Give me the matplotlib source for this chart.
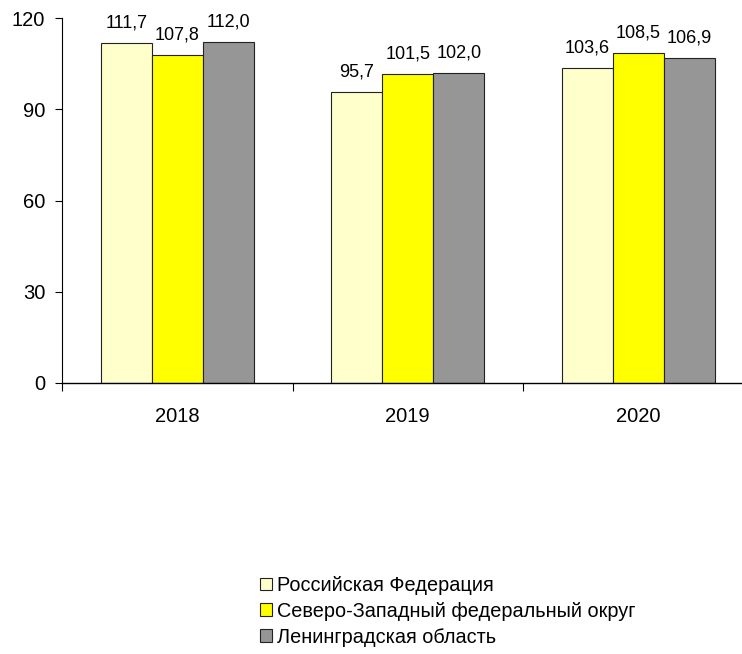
import matplotlib
matplotlib.use("Agg")
import matplotlib.pyplot as plt
import numpy as np

years = ["2018", "2019", "2020"]
series_names = [
    "Российская Федерация",
    "Северо-Западный федеральный округ",
    "Ленинградская область",
]
rf_values = [111.7, 95.7, 103.6]
szfo_values = [107.8, 101.5, 108.5]
lo_values = [112.0, 102.0, 106.9]

colors = ["#FFFFCC", "#FFFF00", "#969696"]

plt.rcParams['font.family'] = ['Liberation Sans', 'DejaVu Sans']

fig = plt.figure(figsize=(7.42, 6.54), dpi=100)
ax = fig.add_axes([62 / 742, 1 - 383 / 654, 1 - 62 / 742, (383 - 18) / 654])

x = np.arange(len(years))
width = 0.221
all_values = [rf_values, szfo_values, lo_values]
for i, (name, vals, col) in enumerate(zip(series_names, all_values, colors)):
    pos = x + (i - 1) * width
    bars = ax.bar(pos, vals, width, color=col, edgecolor="#222222",
                  linewidth=0.8, label=name, zorder=2)
    for b, v in zip(bars, vals):
        ax.annotate(f"{v:.1f}".replace(".", ","),
                    (b.get_x() + b.get_width() / 2, v),
                    xytext=(0, 14.5), textcoords="offset points",
                    ha="center", va="center", fontsize=13)

ax.set_ylim(0, 120)
ax.set_yticks([0, 30, 60, 90, 120])
ax.set_xlim(-0.5, 2.45)
ax.set_xticks([-0.5, 0.5, 1.5])
ax.set_xticklabels([])
ax.set_xticks(x, minor=True)
ax.set_xticklabels(years, minor=True)
ax.tick_params(axis="x", which="major", direction="out", length=6, width=0.8)
ax.tick_params(axis="x", which="minor", length=0, pad=17, labelsize=14.5)
ax.tick_params(axis="y", direction="out", length=5, width=0.8, pad=7,
               labelsize=14.5)

ax.spines["top"].set_visible(False)
ax.spines["right"].set_visible(False)
ax.spines["left"].set_linewidth(0.8)
ax.spines["bottom"].set_linewidth(1.0)

leg = fig.legend(loc="upper left", bbox_to_anchor=(260 / 742, 1 - 576 / 654),
                 frameon=False, fontsize=14.3, handlelength=0.62,
                 handleheight=0.62, handletextpad=0.25, labelspacing=0.34,
                 borderaxespad=0, borderpad=0)

fig.savefig("out.png", dpi=100)
